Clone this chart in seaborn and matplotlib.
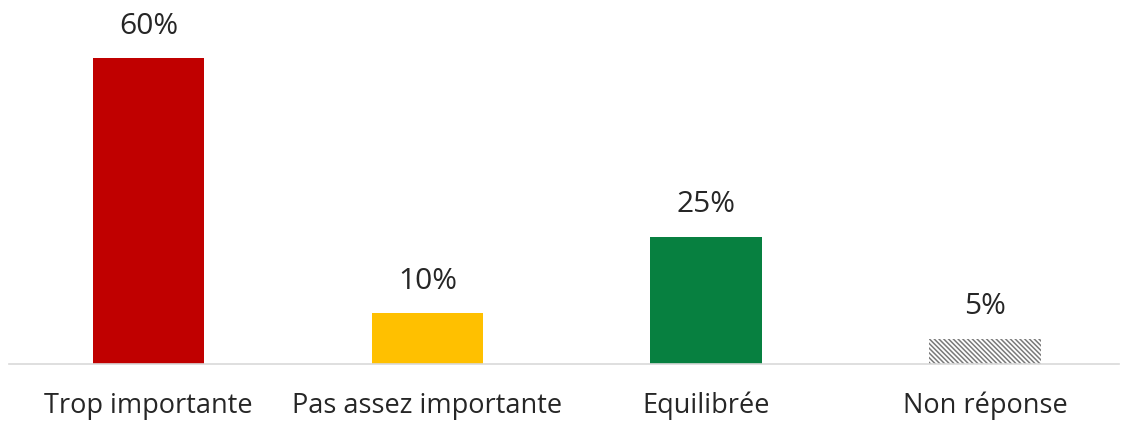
import matplotlib
matplotlib.use("Agg")
import matplotlib.pyplot as plt
import seaborn as sns
import pandas as pd

categories = ["Trop importante", "Pas assez importante", "Equilibrée", "Non réponse"]
values = [60, 10, 25, 5]
labels = ["60%", "10%", "25%", "5%"]
colors = ["#C00000", "#FFC000", "#078040", "#FFFFFF"]

sns.set_theme(style="white")
plt.rcParams["font.family"] = ["Open Sans", "DejaVu Sans"]
plt.rcParams["hatch.linewidth"] = 1.1

df = pd.DataFrame({"cat": categories, "val": values})
fig = plt.figure(figsize=(11.23, 4.21), dpi=100)
ax = fig.add_axes([9 / 1123, 57 / 421, 1110 / 1123, 357 / 421])
sns.barplot(data=df, x="cat", y="val", hue="cat", palette=colors, width=0.4,
            legend=False, ax=ax, saturation=1)
for i, p in enumerate(ax.patches):
    if i == 3:
        p.set_edgecolor("#7A7A7A")
        p.set_linewidth(0)
        p.set_hatch("\\" * 7)
    else:
        p.set_edgecolor("none")
for i, v in enumerate(values):
    ax.text(i, v + 3.4, labels[i], ha="center", va="bottom", fontsize=21.5, color="#262626")
ax.set_xlim(-0.5, 3.48)
ax.set_ylim(0, 70)
ax.set_xlabel("")
ax.set_ylabel("")
ax.set_yticks([])
for s in ["top", "right", "left"]:
    ax.spines[s].set_visible(False)
ax.spines["bottom"].set_color("#D9D9D9")
ax.spines["bottom"].set_linewidth(1.2)
ax.tick_params(axis="x", length=0, pad=20, labelsize=19.5, labelcolor="#262626")
fig.savefig("out.png", dpi=100)
